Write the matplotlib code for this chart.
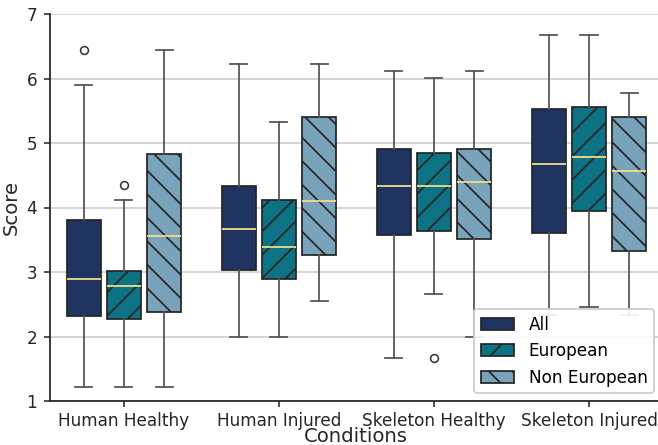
import numpy as np
import matplotlib.pyplot as plt

conditions = ["Human Healthy", "Human Injured", "Skeleton Healthy", "Skeleton Injured"]
groups = ["All", "European", "Non European"]

# per group: one value per condition
whislo = {
    "All": [1.22, 2.00, 1.66, 2.33],
    "European": [1.22, 2.00, 2.66, 2.46],
    "Non European": [1.22, 2.55, 2.00, 2.33],
}
q1 = {
    "All": [2.32, 3.03, 3.58, 3.61],
    "European": [2.27, 2.89, 3.64, 3.94],
    "Non European": [2.38, 3.26, 3.51, 3.32],
}
med = {
    "All": [2.89, 3.66, 4.34, 4.67],
    "European": [2.78, 3.39, 4.34, 4.79],
    "Non European": [3.56, 4.10, 4.39, 4.57],
}
q3 = {
    "All": [3.80, 4.34, 4.90, 5.53],
    "European": [3.02, 4.11, 4.84, 5.56],
    "Non European": [4.83, 5.40, 4.90, 5.41],
}
whishi = {
    "All": [5.90, 6.22, 6.11, 6.67],
    "European": [4.12, 5.33, 6.01, 6.67],
    "Non European": [6.44, 6.22, 6.11, 5.77],
}
outliers = {
    "All": [[6.44], [], [], []],
    "European": [[4.35], [], [1.66], []],
    "Non European": [[], [], [], []],
}

colors = {"All": "#1f3461", "European": "#0e7285", "Non European": "#79a3bb"}
hatches = {"All": "", "European": "//", "Non European": "\\\\"}
offsets = {"All": -0.26, "European": 0.0, "Non European": 0.26}

DPI = 141
plt.rcParams["hatch.linewidth"] = 0.9
fig = plt.figure(figsize=(658 / DPI, 445 / DPI), dpi=DPI)
ax = fig.add_axes([50 / 658, 44 / 445, 612 / 658, 387 / 445])

x = np.arange(len(conditions))
handles = []
for g in groups:
    stats = []
    for i in range(len(conditions)):
        stats.append({
            "whislo": whislo[g][i], "q1": q1[g][i], "med": med[g][i],
            "q3": q3[g][i], "whishi": whishi[g][i], "fliers": outliers[g][i],
        })
    bp = ax.bxp(stats, positions=x + offsets[g], widths=0.22, patch_artist=True,
                manage_ticks=False,
                boxprops=dict(facecolor=colors[g], edgecolor="#262626", linewidth=0.9, hatch=hatches[g]),
                medianprops=dict(color="#f3e08a", linewidth=0.9),
                whiskerprops=dict(color="#555555", linewidth=0.9),
                capprops=dict(color="#555555", linewidth=0.9),
                flierprops=dict(marker="o", markerfacecolor="white", markeredgecolor="#333333",
                                markersize=4, markeredgewidth=0.8))
    handles.append(bp["boxes"][0])

ax.set_xlim(-0.477, 3.471)
ax.set_ylim(1, 7)
ax.set_xticks(x)
ax.set_xticklabels(conditions, fontsize=8.6, color="#262626")
ax.set_yticks(range(1, 8))
ax.tick_params(axis="y", labelsize=8.6, colors="#262626", width=0.8, length=3)
ax.tick_params(axis="x", colors="#262626", width=0.8, length=3, pad=2.5)
ax.yaxis.grid(True, color="#cccccc", linewidth=0.8)
ax.set_axisbelow(True)
for s in ["top", "right"]:
    ax.spines[s].set_visible(False)
for s in ["left", "bottom"]:
    ax.spines[s].set_color("#262626")
    ax.spines[s].set_linewidth(0.9)
ax.set_xlabel("Conditions", fontsize=10, color="#262626", labelpad=-1.5)
ax.set_ylabel("Score", fontsize=10, color="#262626", labelpad=3)

ax.legend(handles, groups, loc="lower right", fontsize=8.6, handlelength=2.0,
          handleheight=0.72, handletextpad=0.85, framealpha=0.9,
          bbox_to_anchor=(1.0, 0.0), borderaxespad=0.45)

fig.savefig("out.png", dpi=DPI)
